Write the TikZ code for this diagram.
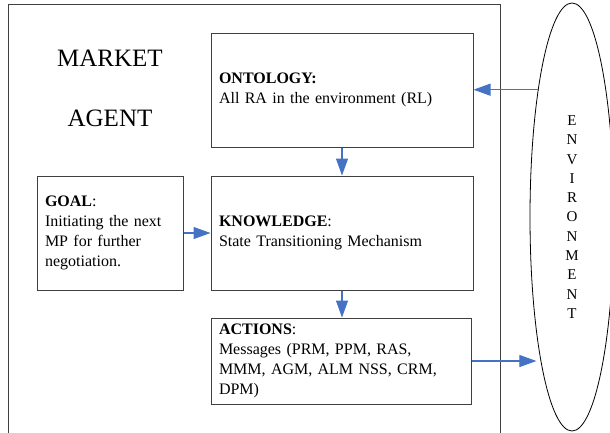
\documentclass[tikz,border=0pt]{standalone}
\usepackage{fontspec}
\setmainfont{Liberation Serif}
\usetikzlibrary{arrows.meta,shapes.geometric}
\definecolor{flow}{HTML}{4472C4}
\definecolor{frame}{HTML}{404040}
\begin{document}
\begin{tikzpicture}[x=1pt,y=-1pt,
  panel/.style={draw=frame, line width=1pt, inner xsep=8pt, inner ysep=0pt,
    align=left, font=\fontsize{16}{20}\selectfont},
  flowarrow/.style={draw=flow, line width=1.1pt,
    -{Triangle[length=17pt,width=12pt]}},
  title/.style={font=\fontsize{25}{30}\selectfont}]
\useasboundingbox (0,0) rectangle (610,432);

% agent frame and its name
\draw[frame, line width=1pt] (8,445) -- (8,4) -- (500,4) -- (500,445);
\node[title] (market) at (110,58) {MARKET};
\node[title] (agent) at (110,118) {AGENT};

% inner blocks
\node[panel, text width=246pt, minimum height=114pt, minimum width=262pt]
  (onto) at (342,90)
  {\textbf{ONTOLOGY:}\\All RA in the environment (RL)};
\node[panel, text width=246pt, minimum height=114pt, minimum width=262pt]
  (know) at (342,233)
  {\textbf{KNOWLEDGE}:\\State Transitioning Mechanism};
\node[panel, text width=130pt, minimum height=114pt, minimum width=146pt]
  (goal) at (110,233)
  {\textbf{GOAL}:\\Initiating the next\\MP for further\\negotiation.};
\node[panel, text width=244pt, minimum height=86pt, minimum width=260pt]
  (act) at (341,361)
  {\textbf{ACTIONS}:\\Messages (PRM, PPM, RAS,\\MMM, AGM, ALM NSS, CRM,\\DPM)};

% environment
\node[draw, line width=0.8pt, ellipse, minimum width=84pt, minimum height=428pt,
  inner sep=0pt, align=center, font=\fontsize{15}{19.3}\selectfont]
  (env) at (572,217) {E\\N\\V\\I\\R\\O\\N\\M\\E\\N\\T};

% information flow
\coordinate (envin) at (env.105);
\coordinate (envout) at (env.253);
\draw[flowarrow] (envin) -- (envin -| onto.east);
\draw[flowarrow] (onto.south) -- (know.north);
\draw[flowarrow] (goal.east) -- (know.west);
\draw[flowarrow] (know.south) -- (know.south |- act.north);
\draw[flowarrow] (act.east) -- (act.east -| envout);
\end{tikzpicture}
\end{document}
